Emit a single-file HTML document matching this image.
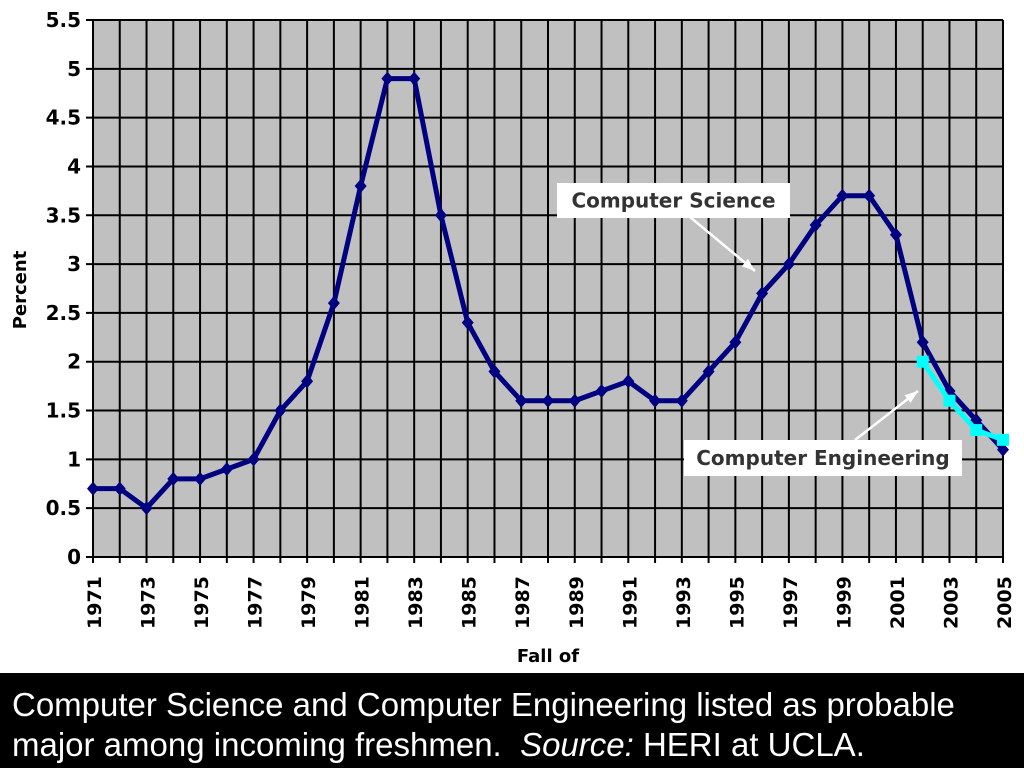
<!DOCTYPE html>
<html><head><meta charset="utf-8"><style>
body{margin:0;background:#fff;width:1024px;height:768px;overflow:hidden;position:relative}
svg{position:absolute;left:0;top:0}
.cap{position:absolute;left:0;top:673px;width:1024px;height:95px;background:#000;color:#fff;font-family:"Liberation Sans",sans-serif;font-size:33px;line-height:40px;padding:12px 0 0 12px;box-sizing:border-box;white-space:nowrap}
</style></head><body>
<svg id="chart" width="1024" height="673" font-family="DejaVu Sans, Liberation Sans, sans-serif"></svg>
<div class="cap">Computer Science and Computer Engineering listed as probable<br>major among incoming freshmen.&nbsp; <i>Source:</i> HERI at UCLA.</div>
<script>
const years=[1971,1972,1973,1974,1975,1976,1977,1978,1979,1980,1981,1982,1983,1984,1985,1986,1987,1988,1989,1990,1991,1992,1993,1994,1995,1996,1997,1998,1999,2000,2001,2002,2003,2004,2005];
const csValues=[0.7,0.7,0.5,0.8,0.8,0.9,1.0,1.5,1.8,2.6,3.8,4.9,4.9,3.5,2.4,1.9,1.6,1.6,1.6,1.7,1.8,1.6,1.6,1.9,2.2,2.7,3.0,3.4,3.7,3.7,3.3,2.2,1.7,1.4,1.1];
const ceYears=[2002,2003,2004,2005];
const ceValues=[2.0,1.6,1.3,1.2];
const yTicks=[0,0.5,1,1.5,2,2.5,3,3.5,4,4.5,5,5.5];
const xLabels=[1971,1973,1975,1977,1979,1981,1983,1985,1987,1989,1991,1993,1995,1997,1999,2001,2003,2005];
const L=93,R=1003,T=20,B=557;
const x=v=>L+(v-1971)/(2005-1971)*(R-L);
const y=v=>B-v/5.5*(B-T);
const s=document.getElementById('chart');const NS='http://www.w3.org/2000/svg';
function el(t,a,p){const e=document.createElementNS(NS,t);for(const k in a)e.setAttribute(k,a[k]);(p||s).appendChild(e);return e;}
let e=el('rect',{x:L,y:T,width:R-L,height:B-T,fill:'#c0c0c0'});


years.forEach(v=>{if(v>1971){const g=el('line',{x1:x(v),x2:x(v),y1:T,y2:B+6,stroke:'#000','stroke-width':2});

}});
yTicks.forEach(v=>{const g=el('line',{x1:L-7,x2:R,y1:y(v),y2:y(v),stroke:'#000','stroke-width':2});


const t=el('text',{x:L-12,y:y(v)+7,'text-anchor':'end','font-size':20,'font-weight':'bold',fill:'#000'});t.textContent=v;

});
el('line',{x1:L,x2:L,y1:T,y2:B+6,stroke:'#000','stroke-width':2});
xLabels.forEach(v=>{const t=el('text',{x:0,y:0,transform:`translate(${x(v)+8},${B+72}) rotate(-90)`,'font-size':19,'font-weight':'bold',fill:'#000'});t.textContent=v;

});
let t=el('text',{x:0,y:0,transform:`translate(26,290) rotate(-90)`,'text-anchor':'middle','font-size':18,'font-weight':'bold'});t.textContent='Percent';


t=el('text',{x:548,y:662,'text-anchor':'middle','font-size':18,'font-weight':'bold'});t.textContent='Fall of';


let p=el('polyline',{points:years.map((v,i)=>x(v)+','+y(csValues[i])).join(' '),fill:'none',stroke:'#000080','stroke-width':5});


years.forEach((v,i)=>{const cx=x(v),cy=y(csValues[i]);const m=el('polygon',{points:`${cx},${cy-7} ${cx+6},${cy} ${cx},${cy+7} ${cx-6},${cy}`,fill:'#000080'});

});
p=el('polyline',{points:ceYears.map((v,i)=>x(v)+','+y(ceValues[i])).join(' '),fill:'none',stroke:'#00ffff','stroke-width':5});


ceYears.forEach((v,i)=>{const m=el('rect',{x:x(v)-6,y:y(ceValues[i])-6,width:12,height:12,fill:'#00ffff'});

});
function callout(name,bx,by,bw,bh,text,ax1,ay1,ax2,ay2){
const l=el('line',{x1:ax1,y1:ay1,x2:ax2,y2:ay2,stroke:'#fff','stroke-width':2.5});


const a=Math.atan2(ay2-ay1,ax2-ax1),h=14;
el('polygon',{points:`${ax2},${ay2} ${ax2-h*Math.cos(a-0.35)},${ay2-h*Math.sin(a-0.35)} ${ax2-h*Math.cos(a+0.35)},${ay2-h*Math.sin(a+0.35)}`,fill:'#fff'});
const r=el('rect',{x:bx,y:by,width:bw,height:bh,fill:'#fff'});


const tx=el('text',{x:bx+bw/2,y:by+bh/2+7,'text-anchor':'middle','font-size':20,'font-weight':'bold',fill:'#333'});tx.textContent=text;

}
callout('cs-callout',557,183,233,35,'Computer Science',690,217,755,271);
callout('ce-callout',684,440,278,36,'Computer Engineering',855,440,918,391);
</script>
</body></html>
